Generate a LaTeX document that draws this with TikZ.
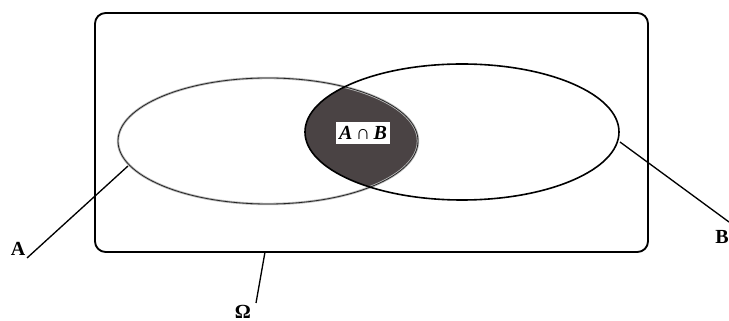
\documentclass[tikz,border=0pt]{standalone}
\usepackage{fontspec}
\setmainfont{Liberation Serif}
\begin{document}
\begin{tikzpicture}[x=0.75pt,y=0.75pt,
  setline/.style={line width=1.2pt,black},
  lead/.style={line width=1pt,black},
  lbl/.style={font=\fontsize{15}{17}\selectfont\bfseries,inner sep=0pt}]
\useasboundingbox (0,0) rectangle (729,321);
% universe
\draw[line width=1.4pt,rounded corners=8pt] (95,69) rectangle (648,308);
% intersection
\begin{scope}
  \clip (268,180) ellipse [x radius=150,y radius=63];
  \fill[fill={rgb,255:red,74;green,67;blue,68}] (462,189) ellipse [x radius=157,y radius=68];
\end{scope}
% sets
\draw[line width=1.8pt,gray!55] (268,180) ellipse [x radius=150,y radius=63];
\draw[line width=0.6pt,black!85] (268,180) ellipse [x radius=150,y radius=63];
\draw[setline] (462,189) ellipse [x radius=157,y radius=68];
\node[fill=white,inner xsep=2pt,inner ysep=3pt,font=\fontsize{15}{17}\selectfont\bfseries\itshape] (ab) at (363,188) {A\,∩\,B};
% labels and leaders
\coordinate (pa) at (128,155);
\coordinate (pb) at (620,179);
\coordinate (po) at (265,69);
\node[lbl] (la) at (18,72) {A};
\node[lbl] (lb) at (722,84) {B};
\node[lbl] (lo) at (243,9) {Ω};
\draw[lead] (pa) -- (27,63);
\draw[lead] (pb) -- (729,99);
\draw[lead] (po) -- (256,18);
\end{tikzpicture}
\end{document}
